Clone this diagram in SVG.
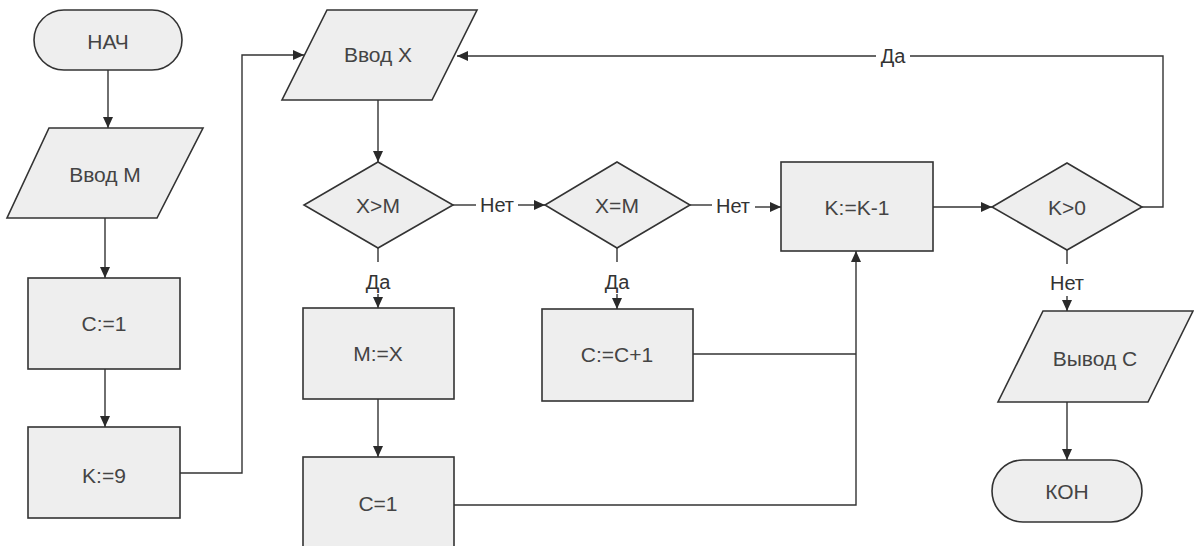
<svg xmlns="http://www.w3.org/2000/svg" width="1194" height="546" viewBox="0 0 1194 546">
<defs>
<marker id="arr" markerUnits="userSpaceOnUse" markerWidth="12" markerHeight="10" refX="11" refY="5" orient="auto">
<path d="M0,0 L11,5 L0,10 Z" fill="#2a2a2a"/>
</marker>
<style>
.shape{fill:#eeeeee;stroke:#333;stroke-width:1.6}
.t{font-family:"Liberation Sans",Arial,sans-serif;font-size:21px;fill:#444;text-anchor:middle;dominant-baseline:central}
.lbl{font-family:"Liberation Sans",Arial,sans-serif;font-size:20px;fill:#333;text-anchor:middle;dominant-baseline:central}
.c{fill:none;stroke:#333;stroke-width:1.4}
.a{marker-end:url(#arr)}
</style>
</defs>
<rect width="1194" height="546" fill="#ffffff"/>
<g id="start"><rect class="shape" x="34" y="10" width="148" height="60" rx="30"/><text class="t" x="108" y="41">НАЧ</text></g>
<g id="inputM"><polygon class="shape" points="49,128 203,128 157,218 7,218"/><text class="t" x="105" y="174">Ввод M</text></g>
<g id="c1a"><rect class="shape" x="28" y="278" width="152" height="91"/><text class="t" x="104" y="323">C:=1</text></g>
<g id="k9"><rect class="shape" x="28" y="427" width="152" height="91"/><text class="t" x="104" y="475">K:=9</text></g>
<g id="inputX"><polygon class="shape" points="327,10 477,10 432,100 282,100"/><text class="t" x="378" y="54">Ввод X</text></g>
<g id="xgtm"><polygon class="shape" points="378,162 453,205 378,248 304,205"/><text class="t" x="378" y="205">X&gt;M</text></g>
<g id="xeqm"><polygon class="shape" points="617,162 690,205 617,248 545,205"/><text class="t" x="617" y="205">X=M</text></g>
<g id="mx"><rect class="shape" x="303" y="308" width="151" height="91"/><text class="t" x="378" y="353">M:=X</text></g>
<g id="c1b"><rect class="shape" x="303" y="457" width="151" height="91"/><text class="t" x="378" y="503">C=1</text></g>
<g id="cc1"><rect class="shape" x="542" y="309" width="151" height="92"/><text class="t" x="617" y="354">C:=C+1</text></g>
<g id="kk1"><rect class="shape" x="781" y="162" width="152" height="89"/><text class="t" x="857" y="207">K:=K-1</text></g>
<g id="kgt0"><polygon class="shape" points="1067,163 1142,207 1067,250 992,207"/><text class="t" x="1067" y="207">K&gt;0</text></g>
<g id="outC"><polygon class="shape" points="1043,311 1193,311 1148,402 998,402"/><text class="t" x="1095" y="358">Вывод C</text></g>
<g id="end"><rect class="shape" x="992" y="460" width="150" height="62" rx="31"/><text class="t" x="1067" y="491">КОН</text></g>
<g id="connectors">
<path class="c a" d="M108,70 V128"/>
<path class="c a" d="M105,218 V278"/>
<path class="c a" d="M105,369 V427"/>
<path class="c a" d="M180,473 H242 V55 H304"/>
<path class="c a" d="M378,100 V162"/>
<path class="c" d="M453,205 H476"/>
<text class="lbl" x="497" y="205">Нет</text>
<path class="c a" d="M518,205 H545"/>
<path class="c" d="M378,248 V262"/>
<text class="lbl" x="378" y="282">Да</text>
<path class="c a" d="M378,294 V308"/>
<path class="c a" d="M378,399 V457"/>
<path class="c" d="M617,248 V262"/>
<text class="lbl" x="617" y="282">Да</text>
<path class="c a" d="M617,294 V309"/>
<path class="c" d="M690,205 H712"/>
<text class="lbl" x="733" y="206">Нет</text>
<path class="c a" d="M755,207 H781"/>
<path class="c a" d="M454,505 H856 V251"/>
<path class="c" d="M693,354 H856"/>
<path class="c a" d="M933,207 H992"/>
<path class="c" d="M1142,207 H1163 V56 H910"/>
<text class="lbl" x="893" y="56">Да</text>
<path class="c a" d="M876,56 H457"/>
<path class="c" d="M1067,250 V264"/>
<text class="lbl" x="1067" y="283">Нет</text>
<path class="c a" d="M1067,296 V311"/>
<path class="c a" d="M1067,402 V460"/>
</g>
</svg>
